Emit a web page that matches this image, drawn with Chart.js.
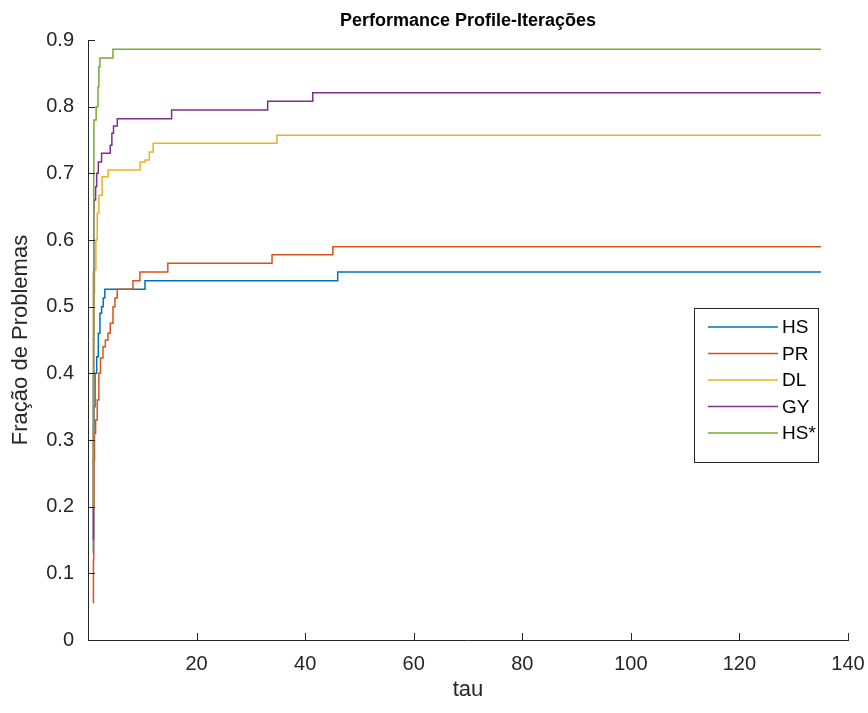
<!DOCTYPE html>
<html>
<head>
<meta charset="utf-8">
<script src="https://cdn.jsdelivr.net/npm/chart.js@4.4.0/dist/chart.umd.min.js"></script>
<style>
html,body{margin:0;padding:0;background:#fff;}
#wrap{width:868px;height:713px;}
</style>
</head>
<body>
<div id="wrap"><canvas id="c" width="868" height="713"></canvas></div>
<script>
// ---- data ----
const seriesNames = ['HS', 'PR', 'DL', 'GY', 'HS*'];

const hsTau = [1, 1.02, 1.05, 1.1, 1.3, 1.6, 1.9, 2.2, 2.5, 2.8, 3.1, 10.5, 46.0, 121.5, 135];
const hsVal = [0.13, 0.2, 0.28, 0.315, 0.35, 0.4, 0.425, 0.46, 0.49, 0.5, 0.513, 0.526, 0.539, 0.552, 0.552];

const prTau = [1, 1.05, 1.1, 1.2, 1.4, 1.7, 2.0, 2.3, 2.76, 3.2, 3.68, 4.1, 4.6, 4.97, 5.39, 8.28, 9.57, 14.7, 33.9, 45.1, 112.1, 135];
const prVal = [0.055, 0.12, 0.2, 0.27, 0.31, 0.33, 0.36, 0.4, 0.423, 0.44, 0.45, 0.46, 0.475, 0.5, 0.513, 0.526, 0.539, 0.552, 0.565, 0.578, 0.59, 0.59];

const dlTau = [1, 1.03, 1.08, 1.2, 1.45, 1.7, 2.0, 2.6, 3.7, 9.6, 10.5, 11.3, 12.0, 34.8, 119.6, 135];
const dlVal = [0.2, 0.35, 0.45, 0.52, 0.555, 0.6, 0.64, 0.667, 0.695, 0.705, 0.717, 0.72, 0.732, 0.745, 0.757, 0.757];

const gyTau = [1, 1.03, 1.06, 1.1, 1.4, 1.6, 1.9, 2.5, 4.1, 4.4, 4.7, 5.4, 15.4, 33.1, 41.4, 71.8, 135];
const gyVal = [0.15, 0.4, 0.55, 0.645, 0.66, 0.68, 0.70, 0.717, 0.73, 0.742, 0.76, 0.771, 0.782, 0.795, 0.808, 0.821, 0.821];

const hssTau = [1, 1.02, 1.05, 1.08, 1.1, 1.5, 1.84, 2.0, 2.2, 4.6, 10.5, 135];
const hssVal = [0.2, 0.35, 0.55, 0.7, 0.765, 0.78, 0.8, 0.83, 0.86, 0.873, 0.886, 0.886];

const xTicks = [20, 40, 60, 80, 100, 120, 140];
const yTicks = [0, 0.1, 0.2, 0.3, 0.4, 0.5, 0.6, 0.7, 0.8, 0.9];
const yTickLabels = ['0', '0.1', '0.2', '0.3', '0.4', '0.5', '0.6', '0.7', '0.8', '0.9'];

const titleText = 'Performance Profile-Iterações';
const xLabel = 'tau';
const yLabel = 'Fração de Problemas';

// ---- styles ----
const colors = ['#0072BD', '#D95319', '#EDB120', '#7E2F8E', '#77AC30'];
const FONT = "'Liberation Sans', Arial, Helvetica, sans-serif";
const AX = '#262626';

function pts(t, v) { return t.map((x, i) => ({x: x, y: v[i]})); }
const allT = [hsTau, prTau, dlTau, gyTau, hssTau];
const allV = [hsVal, prVal, dlVal, gyVal, hssVal];

const datasets = seriesNames.map((n, i) => ({
  label: n,
  data: pts(allT[i], allV[i]),
  borderColor: colors[i],
  backgroundColor: colors[i],
  borderWidth: 1.5,
  stepped: 'after',
  pointRadius: 0,
  fill: false,
  order: seriesNames.length - i
}));

const tickPlugin = {
  id: 'inTicks',
  afterDatasetsDraw(chart) {
    const ctx = chart.ctx, xs = chart.scales.x, ys = chart.scales.y;
    const a = chart.chartArea;
    ctx.save();
    ctx.strokeStyle = AX;
    ctx.lineWidth = 1;
    ctx.beginPath();
    xTicks.forEach(v => {
      const p = Math.round(xs.getPixelForValue(v)) + 0.5;
      ctx.moveTo(p, a.bottom); ctx.lineTo(p, a.bottom - 7);
    });
    yTicks.forEach(v => {
      const p = Math.round(ys.getPixelForValue(v)) + 0.5;
      ctx.moveTo(a.left, p); ctx.lineTo(a.left + 7, p);
    });
    ctx.stroke();
    ctx.restore();
  }
};

const legendPlugin = {
  id: 'boxLegend',
  afterDraw(chart) {
    const ctx = chart.ctx;
    const bx = 694, by = 308, bw = 124, bh = 154;
    ctx.save();
    ctx.fillStyle = '#fff';
    ctx.fillRect(bx, by, bw, bh);
    ctx.strokeStyle = AX;
    ctx.lineWidth = 1;
    ctx.strokeRect(bx + 0.5, by + 0.5, bw, bh);
    ctx.font = '19px ' + FONT;
    ctx.textBaseline = 'middle';
    ctx.textAlign = 'left';
    chart.data.datasets.forEach((d, i) => {
      const y = by + 19 + i * 26.5;
      ctx.strokeStyle = d.borderColor;
      ctx.lineWidth = 1.5;
      ctx.beginPath();
      ctx.moveTo(bx + 14, y); ctx.lineTo(bx + 84, y);
      ctx.stroke();
      ctx.fillStyle = '#000';
      ctx.fillText(d.label, bx + 88, y + 1);
    });
    ctx.restore();
  }
};

new Chart(document.getElementById('c'), {
  type: 'line',
  data: { datasets: datasets },
  plugins: [tickPlugin, legendPlugin],
  options: {
    responsive: false,
    animation: false,
    devicePixelRatio: 1,
    layout: { padding: { left: 0, right: 20, top: 0, bottom: 0 } },
    plugins: {
      legend: { display: false },
      tooltip: { enabled: false },
      title: {
        display: true,
        text: titleText,
        fullSize: false,
        color: '#000',
        font: { family: FONT, size: 18, weight: 'bold', lineHeight: 1.2 },
        padding: { top: 10, bottom: 8.4 }
      }
    },
    scales: {
      x: {
        type: 'linear',
        min: 0, max: 140,
        grid: { display: false, drawTicks: false },
        border: { display: true, color: AX, width: 1 },
        afterBuildTicks(s) { s.ticks = xTicks.map(v => ({value: v})); },
        afterFit(s) { s.height = 73; s.paddingLeft = 0; s.paddingRight = 0; },
        ticks: {
          color: AX, padding: 12,
          font: { family: FONT, size: 20 },
          maxRotation: 0,
          callback: v => String(v)
        },
        title: {
          display: true, text: xLabel, color: AX,
          font: { family: FONT, size: 22, lineHeight: 1.2 },
          padding: { top: 0, bottom: 10 }
        }
      },
      y: {
        type: 'linear',
        min: 0, max: 0.9,
        grid: { display: false, drawTicks: false },
        border: { display: true, color: AX, width: 1 },
        afterBuildTicks(s) { s.ticks = yTicks.map(v => ({value: v})); },
        afterFit(s) { s.width = 88; s.paddingTop = 0; s.paddingBottom = 0; },
        ticks: {
          color: AX, padding: 14,
          font: { family: FONT, size: 20 },
          callback: (v, i) => yTickLabels[i]
        },
        title: {
          display: true, text: yLabel, color: AX,
          font: { family: FONT, size: 22, lineHeight: 1.2 },
          padding: { top: 8, bottom: 0 }
        }
      }
    }
  }
});
</script>
</body>
</html>
